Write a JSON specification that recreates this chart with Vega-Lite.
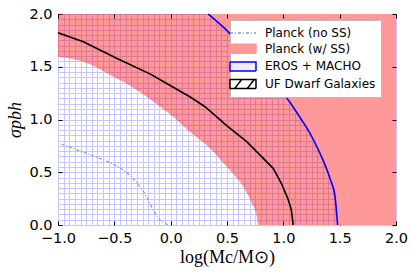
{
  "$schema": "https://vega.github.io/schema/vega-lite/v6.json",
  "width": 338,
  "height": 211,
  "autosize": "none",
  "padding": {"left": 58, "top": 14, "right": 19, "bottom": 52},
  "background": "white",
  "config": {
    "font": "DejaVu Sans",
    "view": {"stroke": "black", "strokeWidth": 1},
    "legend": {
      "title": null, "orient": "none", "legendX": 172, "legendY": 6, "padding": 5,
      "fillColor": "white", "strokeColor": "#bbbbbb", "cornerRadius": 0,
      "labelFont": "DejaVu Sans", "labelFontSize": 12, "labelColor": "black",
      "labelOffset": 14, "rowPadding": 1.7, "symbolOpacity": 1, "symbolSize": 196,
      "symbolStrokeWidth": 1.5
    }
  },
  "datasets": {
    "planck": [
      {"x": -1.0, "y": 1.595}, {"x": -0.775, "y": 1.548}, {"x": -0.48, "y": 1.39},
      {"x": -0.36, "y": 1.32}, {"x": -0.18, "y": 1.19}, {"x": 0.0, "y": 1.045},
      {"x": 0.17, "y": 0.884}, {"x": 0.35, "y": 0.727}, {"x": 0.47, "y": 0.585},
      {"x": 0.53, "y": 0.515}, {"x": 0.645, "y": 0.363}, {"x": 0.72, "y": 0.206},
      {"x": 0.765, "y": 0.079}, {"x": 0.778, "y": 0.0}, {"x": 2.0, "y": 0.0}
    ],
    "eros": [
      {"x": 0.334, "y": 2.0}, {"x": 0.48, "y": 1.864}, {"x": 0.65, "y": 1.67},
      {"x": 0.85, "y": 1.44}, {"x": 1.044, "y": 1.185}, {"x": 1.163, "y": 0.995},
      {"x": 1.237, "y": 0.869}, {"x": 1.325, "y": 0.68}, {"x": 1.414, "y": 0.442},
      {"x": 1.459, "y": 0.269}, {"x": 1.474, "y": 0.1}, {"x": 1.482, "y": 0.0},
      {"x": 2.0, "y": 0.0}
    ],
    "uf": [
      {"x": -1.0, "y": 1.823}, {"x": -0.775, "y": 1.737}, {"x": -0.48, "y": 1.58},
      {"x": -0.18, "y": 1.43}, {"x": 0.0, "y": 1.32}, {"x": 0.17, "y": 1.216},
      {"x": 0.305, "y": 1.121}, {"x": 0.5, "y": 0.94}, {"x": 0.675, "y": 0.79},
      {"x": 0.91, "y": 0.537}, {"x": 0.98, "y": 0.4}, {"x": 1.04, "y": 0.25},
      {"x": 1.07, "y": 0.15}, {"x": 1.088, "y": 0.0}
    ],
    "nss": [
      {"x": -0.97, "y": 0.768}, {"x": -0.85, "y": 0.72}, {"x": -0.73, "y": 0.672},
      {"x": -0.63, "y": 0.632}, {"x": -0.48, "y": 0.559}, {"x": -0.35, "y": 0.458},
      {"x": -0.27, "y": 0.36}, {"x": -0.22, "y": 0.28}, {"x": -0.17, "y": 0.174},
      {"x": -0.1, "y": 0.054}, {"x": -0.01, "y": 0.0}
    ],
    "leg": [
      {"s": "Planck (no SS)"}, {"s": "Planck (w/ SS)"}, {"s": "EROS + MACHO"}, {"s": "UF Dwarf Galaxies"}
    ]
  },
  "layer": [
    {
      "data": {"name": "planck"},
      "mark": {"type": "area", "color": "#ff0000", "opacity": 0.4, "interpolate": "monotone"},
      "encoding": {
        "x": {
          "field": "x", "type": "quantitative",
          "scale": {"domain": [-1, 2], "nice": false, "zero": false},
          "axis": {
            "orient": "bottom", "tickCount": 60, "format": ".1f",
            "labelExpr": "abs(datum.value*2 - round(datum.value*2)) < 0.000001 ? datum.label : ''",
            "labelOverlap": false, "labelFlush": false,
            "labelFont": "DejaVu Sans", "labelFontSize": 14.5, "labelColor": "black", "labelPadding": 10,
            "grid": true, "gridColor": "#c6c6ff", "gridWidth": 1, "gridOpacity": 1,
            "domain": false, "tickColor": "black", "tickSize": -4,
            "tickOpacity": {"condition": {"test": "abs(datum.value*2 - round(datum.value*2)) < 0.000001", "value": 1}, "value": 0},
            "title": "log(Mc/M⊙)", "titleFont": "Liberation Serif", "titleFontSize": 18,
            "titleFontWeight": "normal", "titleColor": "black", "titlePadding": 4,
            "zindex": 0
          }
        },
        "y": {
          "field": "y", "type": "quantitative",
          "scale": {"domain": [0, 2], "nice": false, "zero": false},
          "axis": {
            "orient": "left", "tickCount": 40, "format": ".1f",
            "labelExpr": "abs(datum.value*2 - round(datum.value*2)) < 0.000001 ? datum.label : ''",
            "labelOverlap": false, "labelFlush": false,
            "labelFont": "DejaVu Sans", "labelFontSize": 14.5, "labelColor": "black", "labelPadding": 10,
            "grid": true, "gridColor": "#c6c6ff", "gridWidth": 1, "gridOpacity": 1,
            "domain": false, "tickColor": "black", "tickSize": -4,
            "tickOpacity": {"condition": {"test": "abs(datum.value*2 - round(datum.value*2)) < 0.000001", "value": 1}, "value": 0},
            "title": "σpbh", "titleFont": "Liberation Serif", "titleFontSize": 18,
            "titleFontStyle": "italic", "titleFontWeight": "normal", "titleColor": "black", "titlePadding": 4,
            "zindex": 0
          }
        },
        "y2": {"datum": 2}
      }
    },
    {
      "data": {"name": "eros"},
      "mark": {"type": "area", "color": "#ff9999", "opacity": 1, "interpolate": "monotone"},
      "encoding": {
        "x": {
          "field": "x", "type": "quantitative",
          "axis": {
            "orient": "top", "values": [-1, -0.5, 0, 0.5, 1, 1.5, 2], "labels": false,
            "grid": false, "domain": false, "tickColor": "black", "tickSize": -4, "title": null, "zindex": 1
          }
        },
        "y": {
          "field": "y", "type": "quantitative",
          "axis": {
            "orient": "right", "values": [0, 0.5, 1, 1.5, 2], "labels": false,
            "grid": false, "domain": false, "tickColor": "black", "tickSize": -4, "title": null, "zindex": 1
          }
        },
        "y2": {"datum": 2}
      }
    },
    {
      "data": {"name": "uf"},
      "mark": {"type": "line", "color": "black", "strokeWidth": 1.6},
      "encoding": {
        "x": {"field": "x", "type": "quantitative", "axis": null},
        "y": {"field": "y", "type": "quantitative", "axis": null}
      }
    },
    {
      "data": {"name": "eros"},
      "transform": [{"filter": "datum.x < 1.9"}],
      "mark": {"type": "line", "color": "#0000ff", "strokeWidth": 1.6, "interpolate": "monotone"},
      "encoding": {
        "x": {"field": "x", "type": "quantitative", "axis": null},
        "y": {"field": "y", "type": "quantitative", "axis": null}
      }
    },
    {
      "data": {"name": "nss"},
      "mark": {"type": "line", "color": "#8494d4", "strokeWidth": 1.2, "strokeDash": [3, 2, 1, 2], "interpolate": "monotone"},
      "encoding": {
        "x": {"field": "x", "type": "quantitative", "axis": null},
        "y": {"field": "y", "type": "quantitative", "axis": null}
      }
    },
    {
      "data": {"name": "leg"},
      "mark": {"type": "point", "filled": true, "opacity": 0, "size": 196, "strokeWidth": 1.5},
      "encoding": {
        "fill": {
          "field": "s", "type": "nominal", "sort": null,
          "scale": {"domain": ["Planck (no SS)", "Planck (w/ SS)", "EROS + MACHO", "UF Dwarf Galaxies"], "range": ["transparent", "#ff9999", "#eeeeff", "#ffffff"]}
        },
        "stroke": {
          "field": "s", "type": "nominal", "sort": null,
          "scale": {"domain": ["Planck (no SS)", "Planck (w/ SS)", "EROS + MACHO", "UF Dwarf Galaxies"], "range": ["#8494d4", "#ff9999", "#0000ff", "#000000"]}
        },
        "shape": {
          "field": "s", "type": "nominal", "sort": null,
          "scale": {"domain": ["Planck (no SS)", "Planck (w/ SS)", "EROS + MACHO", "UF Dwarf Galaxies"], "range": [
            "M-1.857,0H1.857",
            "M-1.857,-0.643H1.857V0.643H-1.857Z",
            "M-1.857,-0.643H1.857V0.643H-1.857Z",
            "M-1.857,-0.643H1.857V0.643H-1.857Z M-1.2,0.643L-0.2,-0.643 M0.6,0.643L1.6,-0.643"
          ]}
        },
        "strokeDash": {
          "field": "s", "type": "nominal", "sort": null,
          "scale": {"domain": ["Planck (no SS)", "Planck (w/ SS)", "EROS + MACHO", "UF Dwarf Galaxies"], "range": [[3, 2, 1, 2], [1, 0], [1, 0], [1, 0]]}
        }
      }
    }
  ],
  "resolve": {"axis": {"x": "independent", "y": "independent"}}
}
